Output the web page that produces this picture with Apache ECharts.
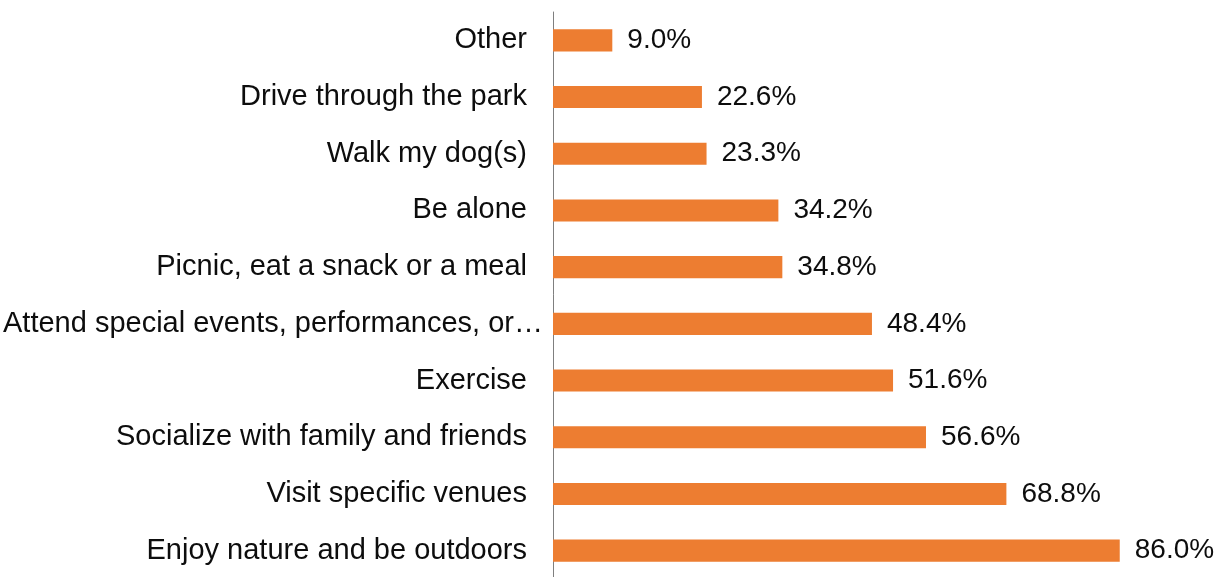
<!DOCTYPE html>
<html>
<head>
<meta charset="utf-8">
<script src="https://cdn.jsdelivr.net/npm/echarts@6/dist/echarts.min.js"></script>
<style>
  html, body { margin: 0; padding: 0; background: #fff; }
  #chart { width: 1226px; height: 577px; }
</style>
</head>
<body>
<div id="chart"></div>
<script>
// Park activities, listed bottom-to-top on the category axis
const categories = [
  'Enjoy nature and be outdoors',
  'Visit specific venues',
  'Socialize with family and friends',
  'Exercise',
  'Attend special events, performances, or other activities',
  'Picnic, eat a snack or a meal',
  'Be alone',
  'Walk my dog(s)',
  'Drive through the park',
  'Other'
];
const shares = [86.0, 68.8, 56.6, 51.6, 48.4, 34.8, 34.2, 23.3, 22.6, 9.0];

// Long category names are cut to this many characters and end in an ellipsis
const maxLabelChars = 39;

const chart = echarts.init(document.getElementById('chart'), null, { renderer: 'canvas' });
chart.setOption({
  animation: false,
  backgroundColor: '#ffffff',
  textStyle: { fontFamily: 'Liberation Sans, Arial, sans-serif' },
  grid: {
    left: 553, right: 14, top: 12, bottom: -2,
    containLabel: false,
    outerBoundsMode: 'none'
  },
  xAxis: {
    type: 'value',
    min: 0,
    max: 100,
    show: false
  },
  yAxis: {
    type: 'category',
    data: categories,
    axisLine: { show: true, lineStyle: { color: '#7f7f7f', width: 1 } },
    axisTick: { show: false },
    splitLine: { show: false },
    axisLabel: {
      color: '#0d0d0d',
      fontSize: 29,
      margin: 10,
      // full names keep a trailing gap; the cut name runs a little closer to the axis
      formatter: v => v.length > maxLabelChars
        ? v.slice(0, maxLabelChars).trimEnd() + '…'
        : v + '{gap|}',
      rich: {
        gap: { width: 16, fontSize: 29 }
      }
    }
  },
  series: [{
    type: 'bar',
    data: shares,
    barWidth: '39%',
    itemStyle: { color: '#ED7D31' },
    label: {
      show: true,
      position: 'right',
      distance: 15,
      color: '#0d0d0d',
      fontSize: 28,
      formatter: p => p.value.toFixed(1) + '%'
    }
  }]
});
</script>
</body>
</html>
